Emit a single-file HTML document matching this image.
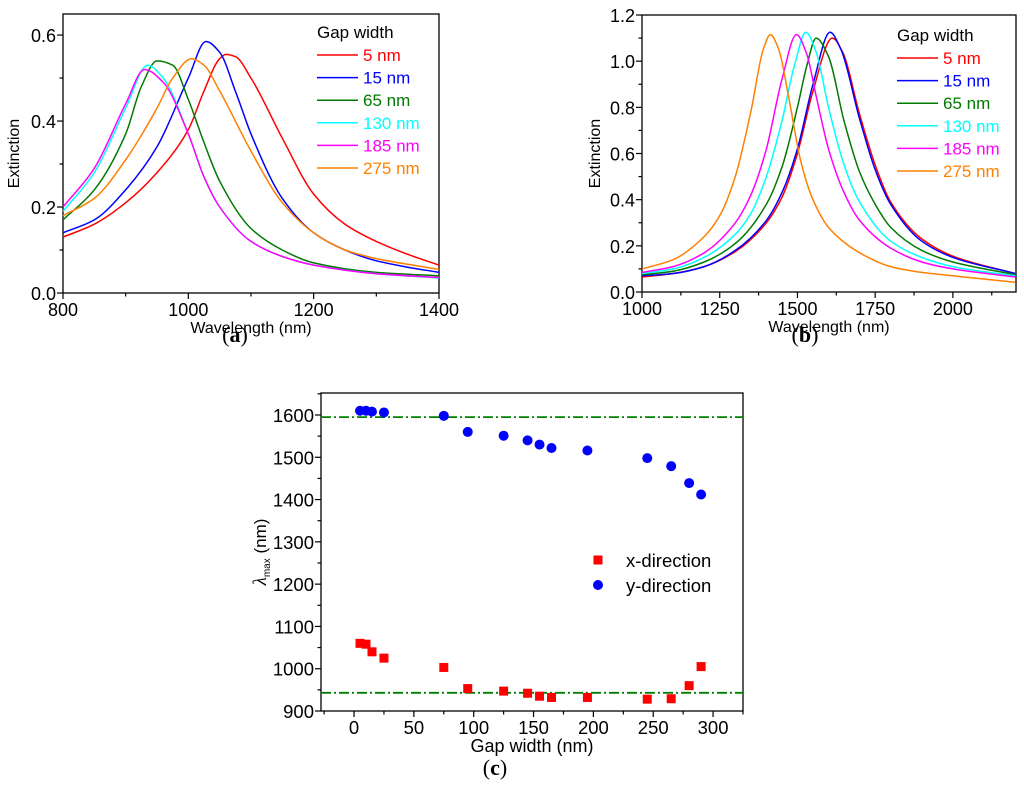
<!DOCTYPE html>
<html><head><meta charset="utf-8"><style>
html,body{margin:0;padding:0;background:#fff;}
svg{display:block;font-family:"Liberation Sans",sans-serif;}
</style></head><body>
<svg id="fig" width="1024" height="810" viewBox="0 0 1024 810" xmlns="http://www.w3.org/2000/svg">
<g id="pa"></g>
<g id="pb"></g>
<g id="pc"></g>
<text x="235" y="342" font-family="Liberation Serif,serif" font-size="22" text-anchor="middle">(<tspan font-weight="bold">a</tspan>)</text>
<text x="805" y="342" font-family="Liberation Serif,serif" font-size="22" text-anchor="middle">(<tspan font-weight="bold">b</tspan>)</text>
<text x="495" y="775" font-family="Liberation Serif,serif" font-size="22" text-anchor="middle">(<tspan font-weight="bold">c</tspan>)</text>
</svg>
<script>
const colors=["#ff0000","#0000ff","#007a00","#00ffff","#ff00ff","#ff8000"];
const seriesNames=["5 nm","15 nm","65 nm","130 nm","185 nm","275 nm"];
// panel a
const aWl0=[800,850,900,950,1000,1025,1050,1060,1075,1100,1150,1200,1250,1300,1350,1400];
const aEx0=[0.13,0.16,0.21,0.28,0.38,0.47,0.545,0.555,0.55,0.50,0.36,0.23,0.16,0.12,0.09,0.065];
const aWl1=[800,850,900,950,1000,1028,1050,1075,1100,1150,1200,1250,1300,1350,1400];
const aEx1=[0.14,0.17,0.24,0.34,0.50,0.585,0.56,0.47,0.37,0.22,0.14,0.10,0.075,0.06,0.048];
const aWl2=[800,850,900,925,950,975,1000,1025,1050,1100,1150,1200,1300,1400];
const aEx2=[0.17,0.24,0.37,0.48,0.54,0.53,0.45,0.35,0.26,0.15,0.10,0.07,0.048,0.04];
const aWl3=[800,850,900,935,960,1000,1025,1050,1100,1150,1200,1300,1400];
const aEx3=[0.19,0.28,0.43,0.53,0.50,0.37,0.27,0.2,0.12,0.085,0.065,0.045,0.035];
const aWl4=[800,850,900,930,960,1000,1025,1050,1100,1150,1200,1300,1400];
const aEx4=[0.20,0.29,0.44,0.52,0.49,0.37,0.27,0.2,0.12,0.085,0.065,0.045,0.036];
const aWl5=[800,850,900,950,975,1005,1025,1050,1100,1150,1200,1250,1300,1400];
const aEx5=[0.18,0.22,0.31,0.43,0.50,0.545,0.53,0.47,0.33,0.21,0.14,0.10,0.08,0.055];
// panel b
const bWl0=[1000,1100,1200,1300,1400,1450,1500,1550,1612,1645,1700,1750,1800,1900,2000,2200];
const bEx0=[0.065,0.08,0.11,0.175,0.30,0.41,0.60,0.87,1.10,1.04,0.77,0.55,0.39,0.23,0.155,0.08];
const bWl1=[1000,1100,1200,1300,1400,1450,1500,1550,1605,1640,1700,1750,1800,1900,2000,2200];
const bEx1=[0.07,0.08,0.11,0.18,0.31,0.43,0.62,0.90,1.125,1.05,0.75,0.53,0.38,0.22,0.15,0.08];
const bWl2=[1000,1100,1200,1300,1400,1450,1500,1530,1560,1600,1650,1700,1750,1800,1900,2000,2200];
const bEx2=[0.075,0.09,0.13,0.21,0.38,0.54,0.80,0.98,1.10,1.02,0.74,0.52,0.38,0.28,0.18,0.13,0.075];
const bWl3=[1000,1100,1200,1300,1350,1400,1450,1490,1527,1560,1600,1650,1700,1800,1900,2000,2200];
const bEx3=[0.08,0.10,0.15,0.25,0.34,0.50,0.74,0.98,1.125,1.04,0.80,0.55,0.39,0.22,0.15,0.11,0.07];
const bWl4=[1000,1100,1200,1300,1350,1400,1450,1497,1530,1560,1600,1650,1700,1800,1900,2000,2200];
const bEx4=[0.085,0.11,0.17,0.30,0.42,0.62,0.92,1.115,1.03,0.85,0.62,0.43,0.31,0.19,0.13,0.10,0.065];
const bWl5=[1000,1100,1200,1250,1300,1350,1390,1413,1440,1475,1510,1550,1600,1700,1800,1900,2000,2200];
const bEx5=[0.10,0.14,0.24,0.33,0.50,0.78,1.05,1.115,1.05,0.82,0.57,0.40,0.28,0.17,0.11,0.085,0.07,0.042];
// panel c
const cGap=[5,10,15,25,75,95,125,145,155,165,195,245,265,280,290];
const cXdir=[1060,1058,1040,1025,1003,953,947,942,935,932,932,928,929,960,1005];
const cYdir=[1610,1610,1608,1606,1598,1560,1551,1540,1530,1522,1516,1498,1479,1439,1412];
const cRefLines=[1595,943];

const NS="http://www.w3.org/2000/svg";
function mk(parent,tag,attrs,text){const e=document.createElementNS(NS,tag);for(const k in attrs)e.setAttribute(k,attrs[k]);if(text!==undefined)e.textContent=text;parent.appendChild(e);return e;}
function lin(d0,d1,r0,r1){return v=>r0+(v-d0)*(r1-r0)/(d1-d0);}
// monotone cubic (Fritsch-Carlson) path in pixel space
function smoothPath(pts){const n=pts.length;const dx=[],m=[],t=new Array(n);
 for(let i=0;i<n-1;i++){dx[i]=pts[i+1][0]-pts[i][0];m[i]=(pts[i+1][1]-pts[i][1])/dx[i];}
 t[0]=m[0];t[n-1]=m[n-2];
 for(let i=1;i<n-1;i++){if(m[i-1]*m[i]<=0)t[i]=0;else{const w1=2*dx[i]+dx[i-1],w2=dx[i]+2*dx[i-1];t[i]=(w1+w2)/(w1/m[i-1]+w2/m[i]);}}
 let d="M"+pts[0][0].toFixed(1)+","+pts[0][1].toFixed(1);
 for(let i=0;i<n-1;i++){const h=dx[i]/3;
  d+="C"+(pts[i][0]+h).toFixed(1)+","+(pts[i][1]+t[i]*h).toFixed(1)+" "+(pts[i+1][0]-h).toFixed(1)+","+(pts[i+1][1]-t[i+1]*h).toFixed(1)+" "+pts[i+1][0].toFixed(1)+","+pts[i+1][1].toFixed(1);}
 return d;}
function axes(g,o){
 mk(g,"rect",{x:o.L,y:o.T,width:o.R-o.L,height:o.B-o.T,fill:"none",stroke:"#000","stroke-width":1.3});
 const xs=lin(o.x0,o.x1,o.L,o.R),ys=lin(o.y0,o.y1,o.B,o.T);
 for(let v=o.xminStart;v<=o.x1+1e-9;v+=o.xminor){const x=xs(v);const maj=Math.abs((v-o.xmaj0)/o.xmajor-Math.round((v-o.xmaj0)/o.xmajor))<1e-6;
  mk(g,"line",{x1:x,x2:x,y1:o.B,y2:o.B+(maj?6:3.5),stroke:"#000","stroke-width":1.2});
  if(maj&&v>=o.xmaj0){const t=mk(g,"text",{x:x,y:o.B+23,"font-size":o.fs,"text-anchor":"middle"},o.xfmt(v));}}
 for(let v=o.y0;v<=o.y1+1e-9;v+=o.yminor){const y=ys(v);const maj=Math.abs(v/o.ymajor-Math.round(v/o.ymajor))<1e-6;
  mk(g,"line",{x1:o.L,x2:o.L-(maj?6:3.5),y1:y,y2:y,stroke:"#000","stroke-width":1.2});
  if(maj){const t=mk(g,"text",{x:o.L-7,y:y+7,"font-size":o.fs,"text-anchor":"end"},o.yfmt(v));}}
 return [xs,ys];}
function spectra(g,o,wls,exs,leg){
 const [xs,ys]=axes(g,o);
 const xt=mk(g,"text",{x:(o.L+o.R)/2,y:o.B+40,"font-size":16,"text-anchor":"middle"},"Wavelength (nm)");
 const yt=mk(g,"text",{x:0,y:0,"font-size":16,"text-anchor":"middle",transform:`translate(${o.yTitleX},${(o.T+o.B)/2}) rotate(-90)`},"Extinction");
 for(let s=0;s<6;s++){const pts=wls[s].map((w,i)=>[xs(w),ys(exs[s][i])]);
  const p=mk(g,"path",{d:smoothPath(pts),fill:"none",stroke:colors[s],"stroke-width":1.5});
  }
 const lt=mk(g,"text",{x:leg.x,y:leg.y0-17,"font-size":17},"Gap width");
 for(let s=0;s<6;s++){const y=leg.y0+s*22.6;
  const lg=mk(g,"g",{});
  mk(lg,"line",{x1:leg.x,x2:leg.x+41,y1:y,y2:y,stroke:colors[s],"stroke-width":1.5});
  mk(lg,"text",{x:leg.x+46,y:y+6,"font-size":17,fill:colors[s]},seriesNames[s]);}
}
spectra(document.getElementById("pa"),{L:63,R:439,T:14,B:293,x0:800,x1:1400,y0:0,y1:0.649,xminor:100,xmajor:200,xmaj0:800,xminStart:800,yminor:0.1,ymajor:0.2,fs:18,xfmt:v=>String(v),yfmt:v=>v.toFixed(1),yTitleX:19},
 [aWl0,aWl1,aWl2,aWl3,aWl4,aWl5],[aEx0,aEx1,aEx2,aEx3,aEx4,aEx5],{x:317,y0:55});
spectra(document.getElementById("pb"),{L:642,R:1016,T:15,B:292,x0:1000,x1:2203,y0:0,y1:1.2,xminor:125,xmajor:250,xmaj0:1000,xminStart:1000,yminor:0.1,ymajor:0.2,fs:18,xfmt:v=>String(v),yfmt:v=>v.toFixed(1),yTitleX:600},
 [bWl0,bWl1,bWl2,bWl3,bWl4,bWl5],[bEx0,bEx1,bEx2,bEx3,bEx4,bEx5],{x:897,y0:58});
// panel c
(function(){const g=document.getElementById("pc");
 const o={L:321,R:743,T:393,B:711,x0:-27.6,x1:325,y0:900,y1:1652,xminor:25,xmajor:50,xmaj0:0,xminStart:-25,yminor:50,ymajor:100,fs:18.5,xfmt:v=>String(v),yfmt:v=>String(v)};
 const [xs,ys]=axes(g,o);
 const xt=mk(g,"text",{x:(o.L+o.R)/2,y:o.B+41,"font-size":18,"text-anchor":"middle"},"Gap width (nm)");
 const yt=mk(g,"text",{x:0,y:0,"font-size":17,"text-anchor":"middle",transform:`translate(266,${(o.T+o.B)/2}) rotate(-90)`});
 mk(yt,"tspan",{"font-style":"italic","font-family":"Liberation Serif,serif","font-size":19},"λ");mk(yt,"tspan",{"font-size":10,dy:4},"max");mk(yt,"tspan",{dy:-4}," (nm)");
 cRefLines.forEach(v=>{const l=mk(g,"line",{x1:o.L,x2:o.R,y1:ys(v),y2:ys(v),stroke:"#008000","stroke-width":1.8,"stroke-dasharray":"10,3,2,3"});});
 cGap.forEach((x,i)=>{const r=mk(g,"rect",{x:xs(x)-4.5,y:ys(cXdir[i])-4.5,width:9,height:9,fill:"#ff0000"});
  const c=mk(g,"circle",{cx:xs(x),cy:ys(cYdir[i]),r:5,fill:"#0000ff"});});
 const l1=mk(g,"g",{});
 mk(l1,"rect",{x:593.5,y:555.5,width:9,height:9,fill:"#ff0000"});mk(l1,"text",{x:626,y:567,"font-size":18.5},"x-direction");
 const l2=mk(g,"g",{});
 mk(l2,"circle",{cx:598,cy:585,r:5,fill:"#0000ff"});mk(l2,"text",{x:626,y:592,"font-size":18.5},"y-direction");
})();
</script>
</body></html>
